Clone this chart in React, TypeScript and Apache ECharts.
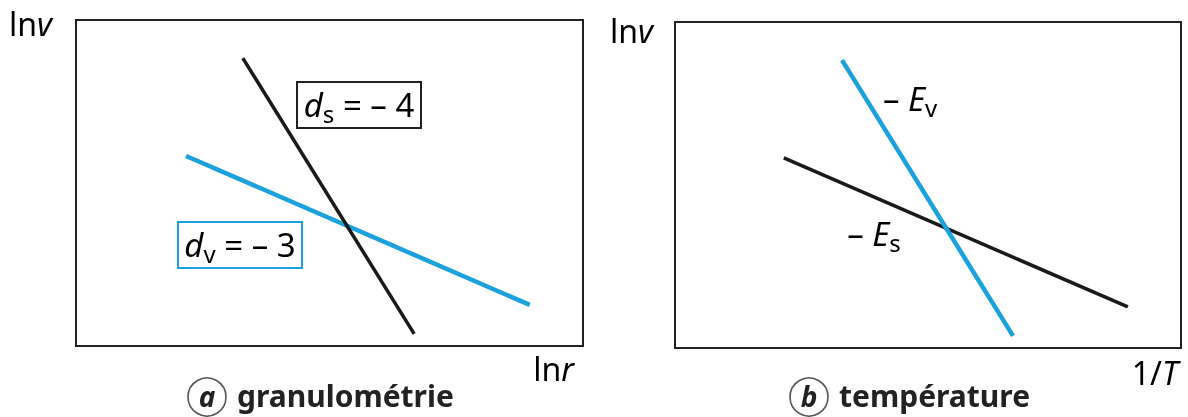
import React, { useEffect, useRef } from "react";
import * as echarts from "echarts";

// ---- data (axis units 0..100) ----
const granuloSurfX = [32.9, 66.7];
const granuloSurfY = [88.3, 3.7];
const granuloVolX = [21.7, 89.5];
const granuloVolY = [58.3, 12.6];
const tempVolX = [33.0, 66.8];
const tempVolY = [88.3, 3.7];
const tempSurfX = [21.5, 89.5];
const tempSurfY = [58.3, 12.6];
const axisMin = 0;
const axisMax = 100;
const captions = ["granulométrie", "température"];
const captionLetters = ["a", "b"];

const BLUE = "#1ba1de";
const BLACK = "#1a1a1a";
const FONT = "'Noto Sans', 'Liberation Sans', Arial, sans-serif";

const pts = (xs: number[], ys: number[]) => xs.map((x, i) => [x, ys[i]]);

export default function App() {
  const ref = useRef<HTMLDivElement>(null);
  useEffect(() => {
    if (!ref.current) return;
    const chart = echarts.init(ref.current, undefined, { renderer: "svg" });
    const axisBase = { type: "value", min: axisMin, max: axisMax, show: false };
    const gridBase = { show: true, borderColor: "#222", borderWidth: 2, backgroundColor: "transparent" };
    const lineSeries = (xi: number, xs: number[], ys: number[], color: string, width: number) => ({
      type: "line",
      xAxisIndex: xi,
      yAxisIndex: xi,
      data: pts(xs, ys),
      symbol: "none",
      silent: true,
      lineStyle: { color, width, cap: "butt" },
    });
    const rich = (color: string, size: number) => ({
      i: { fontFamily: FONT, fontSize: size, fontStyle: "italic", color, lineHeight: size + 10 },
      s: { fontFamily: FONT, fontSize: Math.round(size * 0.74), color, verticalAlign: "bottom" },
      n: { fontFamily: FONT, fontSize: size, color, lineHeight: size + 10 },
    });
    const axisLabel = (x: number, y: number, text: string, align = "left") => ({
      type: "text",
      x,
      y,
      style: {
        text,
        textAlign: align,
        textVerticalAlign: "middle",
        rich: rich("#222", 32),
      },
    });
    const caption = (cx: number, cy: number, letter: string, text: string) => [
      { type: "circle", shape: { cx, cy, r: 19 }, style: { fill: "none", stroke: "#555", lineWidth: 1.6 } },
      {
        type: "text",
        x: cx,
        y: cy - 1,
        style: {
          text: letter,
          textAlign: "center",
          textVerticalAlign: "middle",
          font: `italic bold 28px ${FONT}`,
          lineHeight: 24,
          fill: "#222",
        },
      },
      {
        type: "text",
        x: cx + 30,
        y: cy - 2,
        style: {
          text,
          textAlign: "left",
          textVerticalAlign: "middle",
          font: `bold 30px ${FONT}`,
          lineHeight: 30,
          fill: "#222",
        },
      },
    ];
    const boxText = (x: number, y: number, text: string, color: string) => ({
      type: "text",
      x,
      y,
      style: { text, textAlign: "center", textVerticalAlign: "middle", rich: rich(color, 33) },
    });
    chart.setOption({
      animation: false,
      grid: [
        { ...gridBase, left: 76, top: 20, width: 507, height: 326 },
        { ...gridBase, left: 675, top: 22, width: 506, height: 326 },
      ],
      xAxis: [{ ...axisBase, gridIndex: 0 }, { ...axisBase, gridIndex: 1 }],
      yAxis: [{ ...axisBase, gridIndex: 0 }, { ...axisBase, gridIndex: 1 }],
      series: [
        lineSeries(0, granuloVolX, granuloVolY, BLUE, 4.5),
        lineSeries(0, granuloSurfX, granuloSurfY, BLACK, 3.5),
        lineSeries(1, tempSurfX, tempSurfY, BLACK, 3.5),
        lineSeries(1, tempVolX, tempVolY, BLUE, 4.5),
      ],
      graphic: [
        axisLabel(9, 23, "{n|ln}{i|v}"),
        axisLabel(610, 30, "{n|ln}{i|v}"),
        axisLabel(574, 368, "{n|ln}{i|r}", "right"),
        axisLabel(1178, 372, "{n|1/}{i|T}", "right"),
        { type: "rect", shape: { x: 297, y: 82, width: 124, height: 46 }, style: { fill: "#fff", stroke: "#222", lineWidth: 2 } },
        boxText(359, 104, "{i|d}{s|s}{n| = – 4}", "#222"),
        { type: "rect", shape: { x: 178, y: 222, width: 124, height: 46 }, style: { fill: "#fff", stroke: BLUE, lineWidth: 2 } },
        boxText(240, 244, "{i|d}{s|v}{n| = – 3}", BLUE),
        boxText(910, 98, "{n|– }{i|E}{s|v}", BLUE),
        boxText(874, 233, "{n|– }{i|E}{s|s}", "#222"),
        ...caption(207, 397, captionLetters[0], captions[0]),
        ...caption(809, 397, captionLetters[1], captions[1]),
      ],
    });
    return () => chart.dispose();
  }, []);
  return <div ref={ref} style={{ position: "fixed", left: 0, top: 0, width: 1188, height: 417 }} />;
}
